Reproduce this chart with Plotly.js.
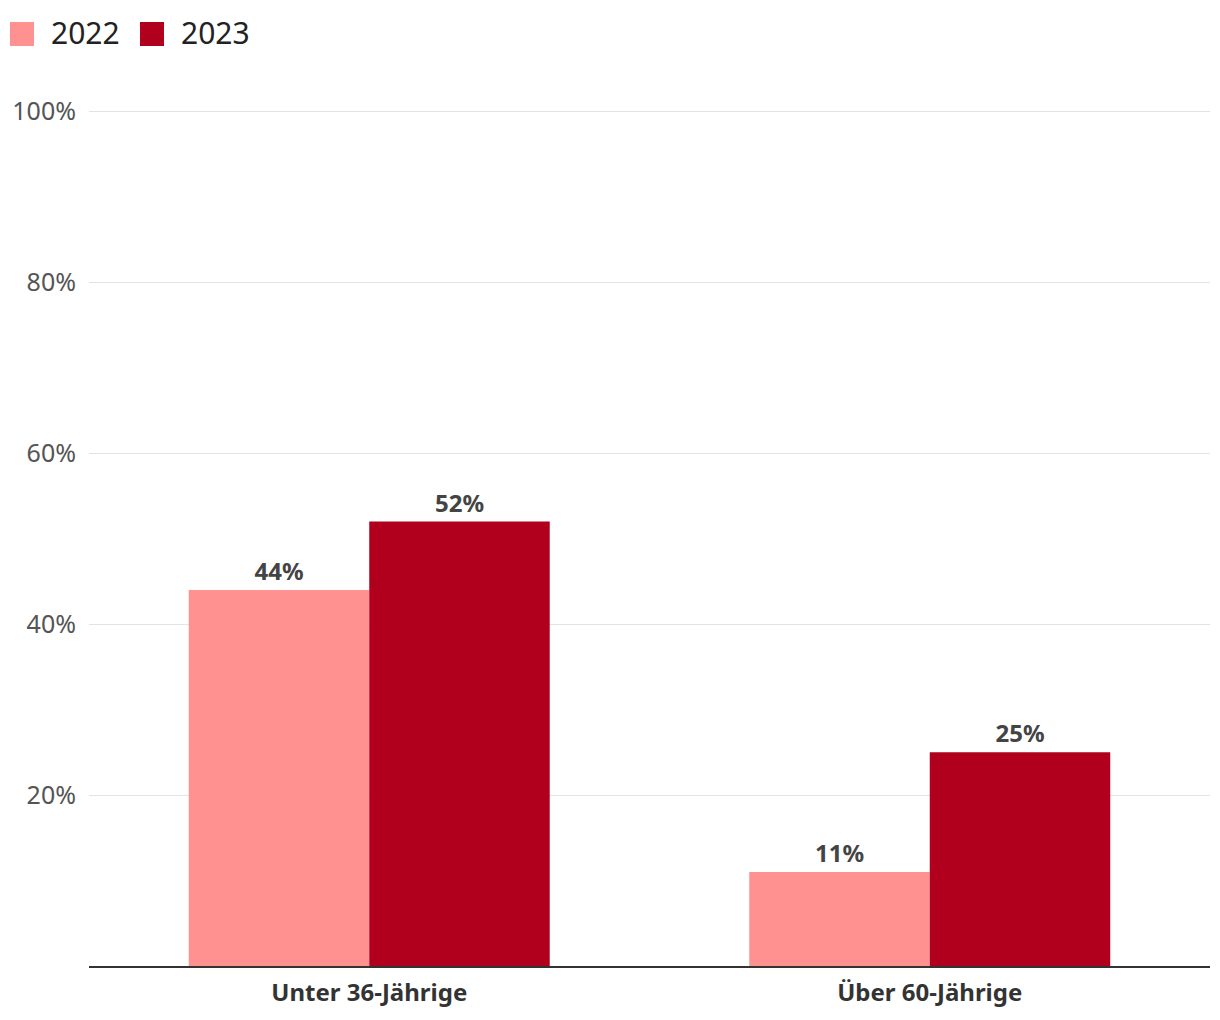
<!DOCTYPE html>
<html>
<head>
<meta charset="utf-8">
<script src="https://cdn.plot.ly/plotly-3.0.1.min.js"></script>
<style>
  html, body { margin: 0; padding: 0; background: #fff; }
  #chart { width: 1220px; height: 1020px; }
</style>
</head>
<body>
<div id="chart"></div>
<script>
// Altersgruppen und Anteile
var categories = ['Unter 36-Jährige', 'Über 60-Jährige'];
var seriesNames = ['2022', '2023'];
var values2022 = [44, 11];
var values2023 = [52, 25];
var yTicks = [20, 40, 60, 80, 100];
var yTickText = ['20%', '40%', '60%', '80%', '100%'];

var colors = ['#ff9191', '#b0001e'];
var fontFamily = '"Noto Sans", "Open Sans", sans-serif';

function barTrace(name, values, color) {
    return {
        type: 'bar',
        name: name,
        x: categories,
        y: values,
        text: values.map(function (v) { return v + '%'; }),
        texttemplate: '%{text}',
        marker: { color: color },
        textposition: 'outside',
        textfont: { family: fontFamily, size: 24, color: '#444', weight: 'bold' },
        cliponaxis: false,
        showlegend: false,
        hoverinfo: 'none'
    };
}

var data = [
    barTrace(seriesNames[0], values2022, colors[0]),
    barTrace(seriesNames[1], values2023, colors[1])
];

// eigene Legende oben links (größere Farbfelder als die Plotly-Legende)
var plotLeft = 89, plotWidth = 1121, plotBottom = 966, plotHeight = 859;
function px(x) { return (x - plotLeft) / plotWidth; }
function py(y) { return (plotBottom - y) / plotHeight; }

var legendX = [10, 140];
var shapes = [];
var annotations = [];
seriesNames.forEach(function (name, i) {
    shapes.push({
        type: 'rect', xref: 'paper', yref: 'paper',
        x0: px(legendX[i]), x1: px(legendX[i] + 24),
        y0: py(46), y1: py(22),
        fillcolor: colors[i], line: { width: 0 }
    });
    annotations.push({
        xref: 'paper', yref: 'paper',
        x: px(legendX[i] + 39), y: py(33),
        xanchor: 'left', yanchor: 'middle',
        text: name, showarrow: false,
        font: { family: fontFamily, size: 30, color: '#222' }
    });
});

var layout = {
    width: 1220,
    height: 1020,
    margin: { l: 89, r: 10, t: 107, b: 54 },
    paper_bgcolor: '#fff',
    plot_bgcolor: '#fff',
    font: { family: fontFamily, color: '#555' },
    barmode: 'group',
    bargap: 0.356,
    bargroupgap: 0,
    showlegend: false,
    shapes: shapes,
    annotations: annotations,
    xaxis: {
        showline: true,
        linecolor: '#333',
        linewidth: 2,
        ticks: '',
        ticklabelstandoff: 4,
        tickfont: { family: fontFamily, size: 24, color: '#333', weight: 'bold' },
        fixedrange: true
    },
    yaxis: {
        range: [0, 100.5],
        tickmode: 'array',
        tickvals: yTicks,
        ticktext: yTickText,
        showgrid: true,
        gridcolor: '#e3e3e3',
        gridwidth: 1,
        zeroline: false,
        ticks: '',
        ticklabelstandoff: 12,
        tickfont: { family: fontFamily, size: 25, color: '#555' },
        fixedrange: true
    }
};

Plotly.newPlot('chart', data, layout, { displayModeBar: false, staticPlot: true });
</script>
</body>
</html>
